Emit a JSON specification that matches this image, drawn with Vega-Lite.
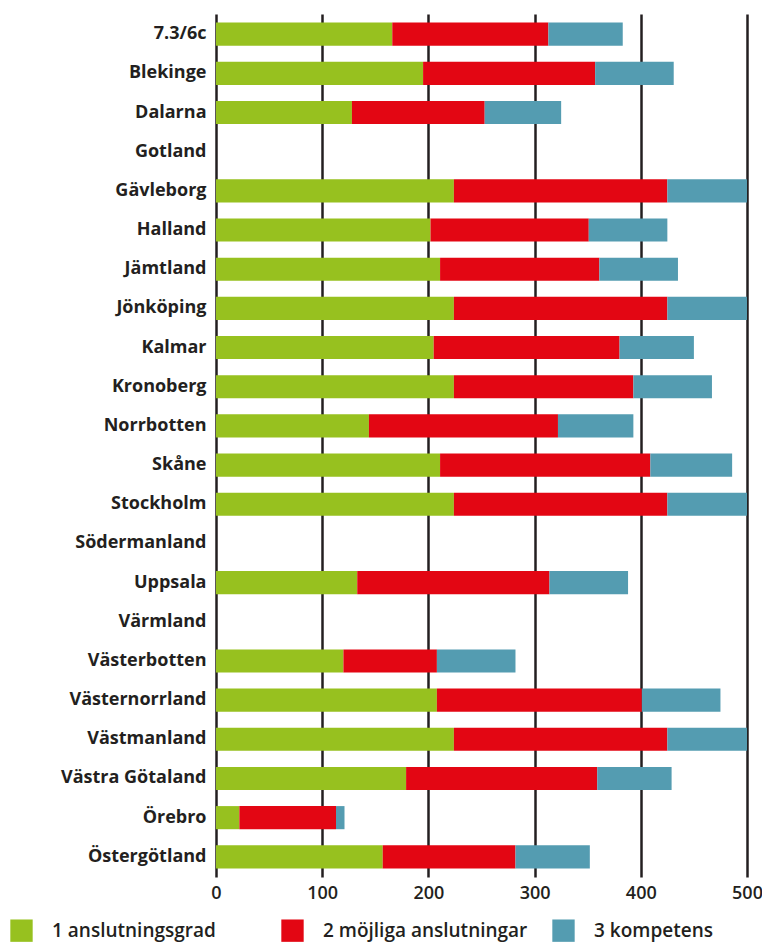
{
  "$schema": "https://vega.github.io/schema/vega-lite/v6.json",
  "width": 531,
  "height": 863,
  "autosize": {"type": "none"},
  "padding": {"left": 216, "top": 14, "right": 15, "bottom": 68},
  "background": "white",
  "config": {
    "view": {"stroke": null},
    "font": "Open Sans"
  },
  "data": {
    "values": [
      {"region": "7.3/6c", "kategori": "1 anslutningsgrad", "v": 166},
      {"region": "7.3/6c", "kategori": "2 möjliga anslutningar", "v": 147},
      {"region": "7.3/6c", "kategori": "3 kompetens", "v": 70},
      {"region": "Blekinge", "kategori": "1 anslutningsgrad", "v": 195},
      {"region": "Blekinge", "kategori": "2 möjliga anslutningar", "v": 162},
      {"region": "Blekinge", "kategori": "3 kompetens", "v": 74},
      {"region": "Dalarna", "kategori": "1 anslutningsgrad", "v": 128},
      {"region": "Dalarna", "kategori": "2 möjliga anslutningar", "v": 125},
      {"region": "Dalarna", "kategori": "3 kompetens", "v": 72},
      {"region": "Gävleborg", "kategori": "1 anslutningsgrad", "v": 224},
      {"region": "Gävleborg", "kategori": "2 möjliga anslutningar", "v": 201},
      {"region": "Gävleborg", "kategori": "3 kompetens", "v": 75},
      {"region": "Halland", "kategori": "1 anslutningsgrad", "v": 202},
      {"region": "Halland", "kategori": "2 möjliga anslutningar", "v": 149},
      {"region": "Halland", "kategori": "3 kompetens", "v": 74},
      {"region": "Jämtland", "kategori": "1 anslutningsgrad", "v": 211},
      {"region": "Jämtland", "kategori": "2 möjliga anslutningar", "v": 150},
      {"region": "Jämtland", "kategori": "3 kompetens", "v": 74},
      {"region": "Jönköping", "kategori": "1 anslutningsgrad", "v": 224},
      {"region": "Jönköping", "kategori": "2 möjliga anslutningar", "v": 201},
      {"region": "Jönköping", "kategori": "3 kompetens", "v": 75},
      {"region": "Kalmar", "kategori": "1 anslutningsgrad", "v": 205},
      {"region": "Kalmar", "kategori": "2 möjliga anslutningar", "v": 175},
      {"region": "Kalmar", "kategori": "3 kompetens", "v": 70},
      {"region": "Kronoberg", "kategori": "1 anslutningsgrad", "v": 224},
      {"region": "Kronoberg", "kategori": "2 möjliga anslutningar", "v": 169},
      {"region": "Kronoberg", "kategori": "3 kompetens", "v": 74},
      {"region": "Norrbotten", "kategori": "1 anslutningsgrad", "v": 144},
      {"region": "Norrbotten", "kategori": "2 möjliga anslutningar", "v": 178},
      {"region": "Norrbotten", "kategori": "3 kompetens", "v": 71},
      {"region": "Skåne", "kategori": "1 anslutningsgrad", "v": 211},
      {"region": "Skåne", "kategori": "2 möjliga anslutningar", "v": 198},
      {"region": "Skåne", "kategori": "3 kompetens", "v": 77},
      {"region": "Stockholm", "kategori": "1 anslutningsgrad", "v": 224},
      {"region": "Stockholm", "kategori": "2 möjliga anslutningar", "v": 201},
      {"region": "Stockholm", "kategori": "3 kompetens", "v": 75},
      {"region": "Uppsala", "kategori": "1 anslutningsgrad", "v": 133},
      {"region": "Uppsala", "kategori": "2 möjliga anslutningar", "v": 181},
      {"region": "Uppsala", "kategori": "3 kompetens", "v": 74},
      {"region": "Västerbotten", "kategori": "1 anslutningsgrad", "v": 120},
      {"region": "Västerbotten", "kategori": "2 möjliga anslutningar", "v": 88},
      {"region": "Västerbotten", "kategori": "3 kompetens", "v": 74},
      {"region": "Västernorrland", "kategori": "1 anslutningsgrad", "v": 208},
      {"region": "Västernorrland", "kategori": "2 möjliga anslutningar", "v": 193},
      {"region": "Västernorrland", "kategori": "3 kompetens", "v": 74},
      {"region": "Västmanland", "kategori": "1 anslutningsgrad", "v": 224},
      {"region": "Västmanland", "kategori": "2 möjliga anslutningar", "v": 201},
      {"region": "Västmanland", "kategori": "3 kompetens", "v": 75},
      {"region": "Västra Götaland", "kategori": "1 anslutningsgrad", "v": 179},
      {"region": "Västra Götaland", "kategori": "2 möjliga anslutningar", "v": 180},
      {"region": "Västra Götaland", "kategori": "3 kompetens", "v": 70},
      {"region": "Örebro", "kategori": "1 anslutningsgrad", "v": 22},
      {"region": "Örebro", "kategori": "2 möjliga anslutningar", "v": 91},
      {"region": "Örebro", "kategori": "3 kompetens", "v": 8},
      {"region": "Östergötland", "kategori": "1 anslutningsgrad", "v": 157},
      {"region": "Östergötland", "kategori": "2 möjliga anslutningar", "v": 125},
      {"region": "Östergötland", "kategori": "3 kompetens", "v": 70}
    ]
  },
  "mark": {"type": "bar"},
  "encoding": {
    "y": {
      "field": "region",
      "type": "nominal",
      "scale": {
        "domain": ["7.3/6c", "Blekinge", "Dalarna", "Gotland", "Gävleborg", "Halland", "Jämtland", "Jönköping", "Kalmar", "Kronoberg", "Norrbotten", "Skåne", "Stockholm", "Södermanland", "Uppsala", "Värmland", "Västerbotten", "Västernorrland", "Västmanland", "Västra Götaland", "Örebro", "Östergötland"],
        "paddingInner": 0.41,
        "paddingOuter": 0.22
      },
      "axis": {
        "title": null,
        "domain": false,
        "ticks": false,
        "labelPadding": 10,
        "labelFontSize": 18,
        "labelFontWeight": "bold",
        "labelColor": "#231f20"
      }
    },
    "x": {
      "field": "v",
      "type": "quantitative",
      "aggregate": "sum",
      "stack": "zero",
      "scale": {"domain": [0, 500], "nice": false},
      "axis": {
        "title": null,
        "values": [0, 100, 200, 300, 400, 500],
        "domain": false,
        "ticks": false,
        "grid": true,
        "gridColor": "#231f20",
        "gridWidth": 2.5,
        "gridOpacity": 1,
        "labelPadding": 7,
        "labelFontSize": 18,
        "labelFontWeight": 600,
        "labelColor": "#231f20",
        "labelFlush": false
      }
    },
    "color": {
      "field": "kategori",
      "type": "nominal",
      "scale": {
        "domain": ["1 anslutningsgrad", "2 möjliga anslutningar", "3 kompetens"],
        "range": ["#97c11f", "#e30613", "#549cb1"]
      },
      "legend": {
        "title": null,
        "orient": "none",
        "direction": "horizontal",
        "legendX": -206,
        "legendY": 905,
        "symbolType": "square",
        "symbolSize": 500,
        "symbolStrokeWidth": 0,
        "symbolOpacity": 1,
        "labelFontSize": 19,
        "labelFontWeight": 600,
        "labelColor": "#231f20",
        "labelOffset": 19,
        "labelLimit": 300,
        "gridAlign": "all",
        "columnPadding": 24
      }
    },
    "order": {"field": "kategori", "type": "nominal"}
  }
}
